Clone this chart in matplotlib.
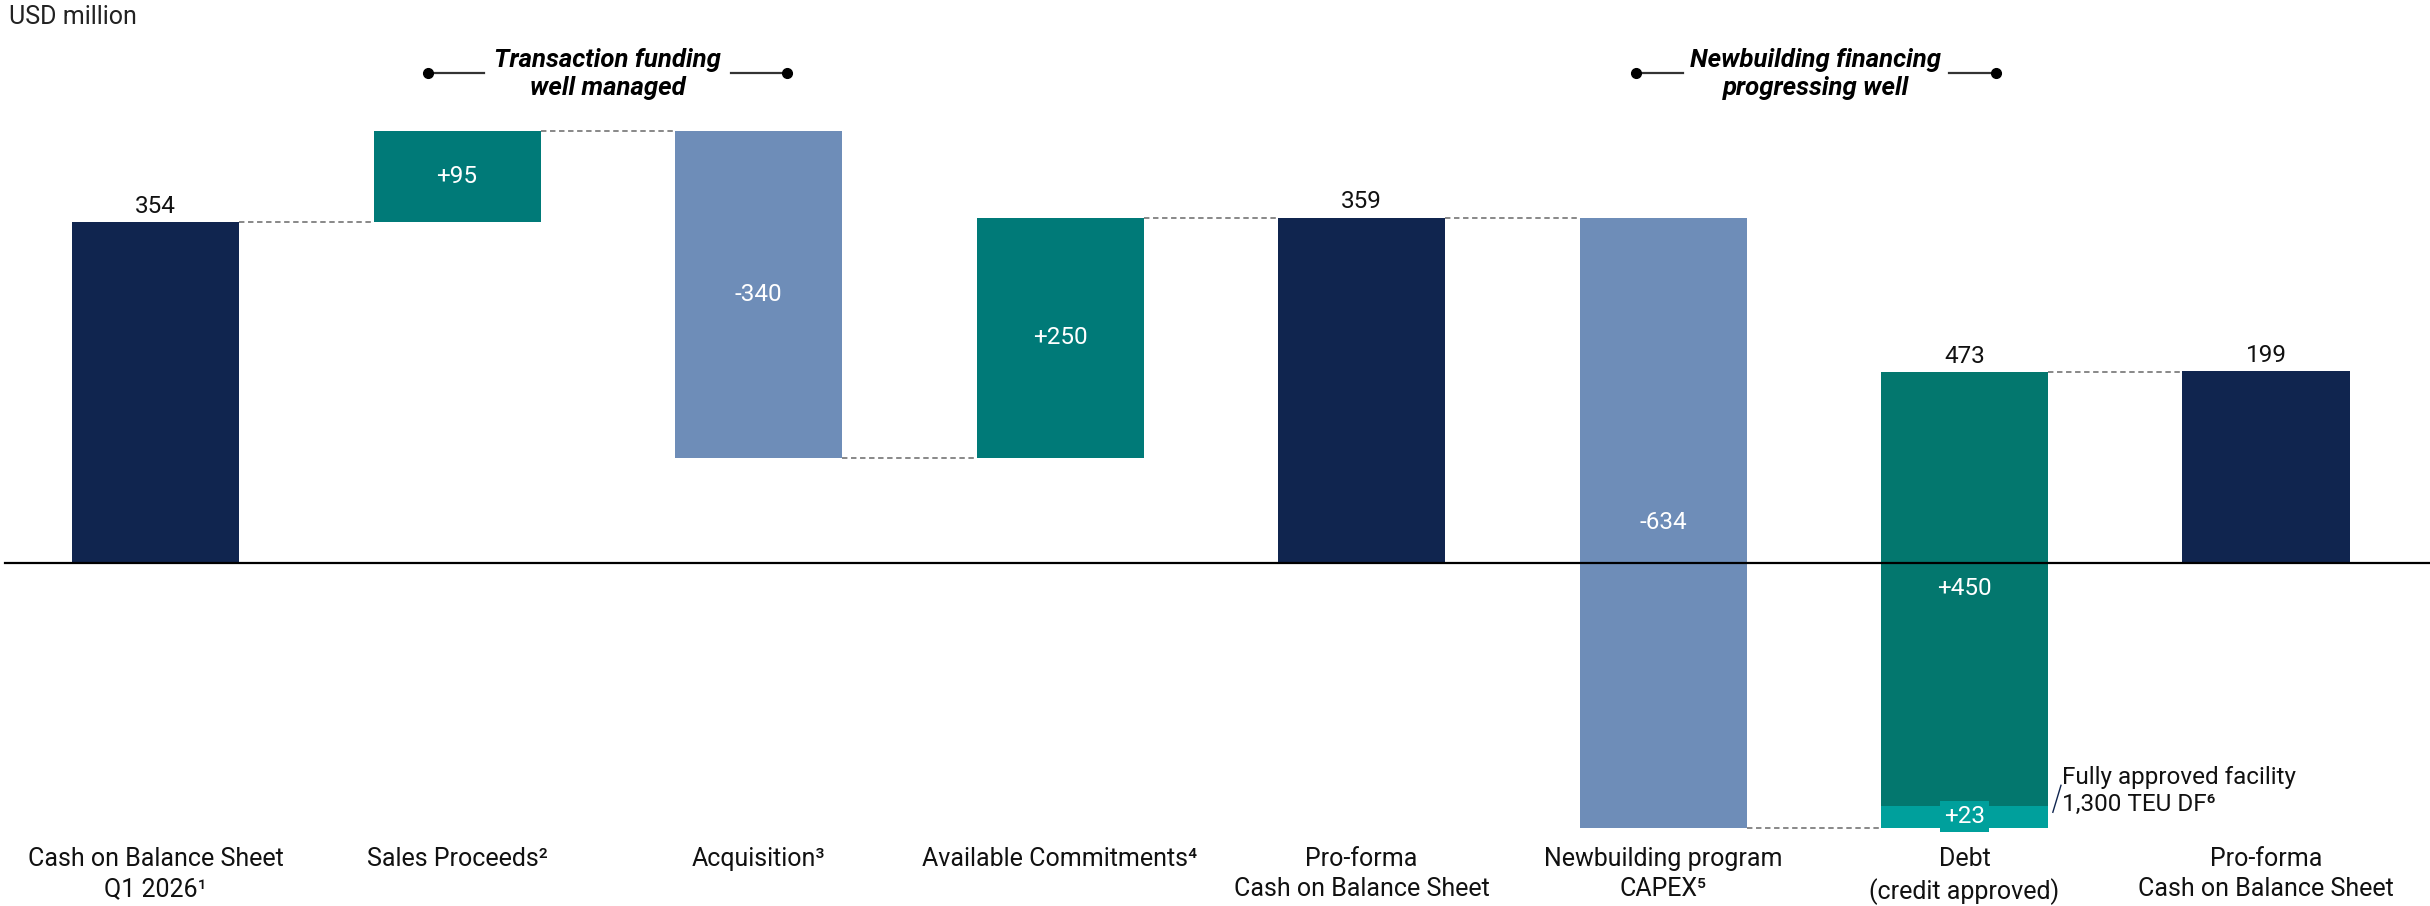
import numpy as np
import matplotlib.pyplot as plt

plt.rcParams['font.family'] = ['Roboto', 'DejaVu Sans']

# Waterfall data (USD million)
categories = ['Cash on Balance Sheet\nQ1 2026¹', 'Sales Proceeds²', 'Acquisition³',
              'Available Commitments⁴', 'Pro-forma\nCash on Balance Sheet',
              'Newbuilding program\nCAPEX⁵', 'Debt\n(credit approved)',
              'Pro-forma\nCash on Balance Sheet']
kinds = ['total', 'delta', 'delta', 'delta', 'total', 'delta', 'stack', 'total']
values = [354, 95, -340, 250, 359, -634, 473, 199]
debt_parts = [23, 450]          # bottom piece first: 1,300 TEU DF facility, then credit approved debt

NAVY = '#10254f'
TEAL = '#007a78'
DEBT_TEAL = '#03776e'
LIGHT_TEAL = '#00a09c'
BLUE = '#6e8db8'
DASH = '#7f7f7f'


def main():
    fig = plt.figure(figsize=(24.3, 9.06), dpi=100)
    ax = fig.add_axes([0, 0, 1, 1])
    ax.set_xlim(-0.516, 7.544)
    ax.set_ylim(-356.4, 585)
    ax.axis('off')

    width = 0.554
    running = 0
    levels = []

    for i, (kind, v) in enumerate(zip(kinds, values)):
        if kind == 'total':
            ax.bar(i, v, width, color=NAVY, zorder=2)
            ax.annotate(str(v), (i, v), xytext=(0, 7), textcoords='offset points',
                        ha='center', va='baseline', fontsize=17.5, color='#111111')
            running = v
        elif kind == 'delta':
            bottom = running if v > 0 else running + v
            ax.bar(i, abs(v), width, bottom=bottom, color=TEAL if v > 0 else BLUE, zorder=2)
            ax.text(i, bottom + abs(v) / 2, f'{v:+d}', ha='center', va='center',
                    fontsize=17.5, color='white', zorder=3)
            running += v
        else:
            bottom = running
            for part, colour in zip(debt_parts, [LIGHT_TEAL, DEBT_TEAL]):
                ax.bar(i, part, width, bottom=bottom, color=colour, zorder=2)
                box = dict(boxstyle='square,pad=0.15', fc=LIGHT_TEAL, ec='none') if colour == LIGHT_TEAL else None
                ax.text(i, bottom + part / 2, f'{part:+d}', ha='center', va='center',
                        fontsize=17.5, color='white', bbox=box, zorder=4)
                bottom += part
            ax.annotate(str(sum(debt_parts)), (i, bottom), xytext=(0, 7), textcoords='offset points',
                        ha='center', va='baseline', fontsize=17.5, color='#111111')
            running = bottom

            # facility note with a small leader line
            edge = i + width / 2
            low = bottom - sum(debt_parts)
            ax.plot([edge + 0.016, edge + 0.043], [low + 16, low + 44], color=NAVY, lw=1.0, zorder=3)
            ax.text(edge + 0.046, low + 38, 'Fully approved facility\n1,300 TEU DF⁶', ha='left', va='center',
                    fontsize=17.5, color='#111111', linespacing=1.2)
        levels.append(running)

    # dashed connectors between neighbouring bars
    for i in range(len(values) - 1):
        ax.plot([i + width / 2, i + 1 - width / 2], [levels[i], levels[i]], color=DASH,
                lw=1.3, linestyle=(0, (3, 2)), zorder=1)

    ax.axhline(0, xmin=5 / 2430, color='black', lw=1.6, zorder=5)

    for i, label in enumerate(categories):
        ax.text(i, -295, label, ha='center', va='top', fontsize=18, linespacing=1.34, color='#111111')

    # bracket-style headings
    headings = [(1.5, 'Transaction funding\nwell managed', 0.41),
                (5.507, 'Newbuilding financing\nprogressing well', 0.44)]
    for centre, text, gap in headings:
        ax.text(centre, 508, text, ha='center', va='center', fontsize=18.5, fontweight='bold',
                fontstyle='italic', linespacing=1.2, color='black')
        for side in (-1, 1):
            ax.plot([centre + side * gap, centre + side * 0.596], [509, 509], color='#333333', lw=1.6)
            ax.plot(centre + side * 0.596, 509, 'o', color='black', markersize=7)

    fig.text(9 / 2430, 1 - 17 / 906, 'USD million', ha='left', va='center', fontsize=18, color='#222222')

    fig.savefig('out.png', dpi=100)


if __name__ == '__main__':
    main()
